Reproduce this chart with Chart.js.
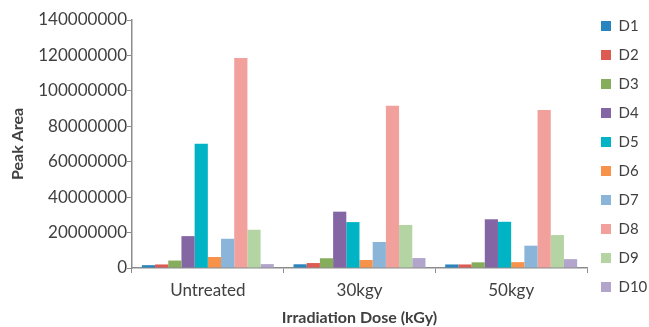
<!DOCTYPE html>
<html>
<head>
<meta charset="utf-8">
<script src="https://cdn.jsdelivr.net/npm/chart.js@4"></script>
<style>
  html, body { margin: 0; padding: 0; background: #fff; }
  #wrap { width: 649px; height: 327px; position: relative; }
</style>
</head>
<body>
<div id="wrap"><canvas id="c"></canvas></div>
<script>
// data (peak area, millions)
const doses = ['Untreated', '30kgy', '50kgy']
const series = ['D1', 'D2', 'D3', 'D4', 'D5', 'D6', 'D7', 'D8', 'D9', 'D10']
const d1 = [1.6, 2.1, 2.0]
const d2 = [2.0, 2.8, 2.0]
const d3 = [4.2, 5.5, 3.2]
const d4 = [18.0, 31.8, 27.5]
const d5 = [70.2, 25.9, 26.1]
const d6 = [6.2, 4.5, 3.3]
const d7 = [16.5, 14.7, 12.6]
const d8 = [118.6, 91.6, 89.2]
const d9 = [21.6, 24.3, 18.6]
const d10 = [2.2, 5.6, 5.0]
const yTicks = [0, 20000000, 40000000, 60000000, 80000000, 100000000, 120000000, 140000000]
const colors = ['#2a85bf', '#dc5b53', '#86ad5c', '#8366a3', '#00b4c5', '#f7924a', '#8ab5d8', '#f1a09b', '#b4d4a4', '#b2a5cb']

const values = [d1, d2, d3, d4, d5, d6, d7, d8, d9, d10]
const txt = '#404040'
const axisCol = '#8c8c8c'
const font = 'Lato, "Open Sans", sans-serif'

new Chart(document.getElementById('c'), {
  type: 'bar',
  data: {
    labels: doses,
    datasets: series.map((s, i) => ({
      label: s,
      data: values[i].map(v => v * 1000000),
      backgroundColor: colors[i],
      borderWidth: 0,
      categoryPercentage: 0.87,
      barPercentage: 1,
    })),
  },
  options: {
    responsive: true,
    maintainAspectRatio: false,
    animation: false,
    layout: { padding: { top: 4.5, right: 0, bottom: 0, left: 0 } },
    plugins: {
      tooltip: { enabled: false },
      title: { display: true, text: '', font: { size: 10, lineHeight: 1 }, padding: { top: 0, bottom: 5.5 } },
      legend: {
        position: 'right',
        align: 'start',
        maxWidth: 62,
        labels: { boxWidth: 10, boxHeight: 10, padding: 14, color: txt, font: { family: font, size: 15 } },
      },
    },
    scales: {
      x: {
        grid: { display: true, drawOnChartArea: false, drawTicks: true, tickLength: 5, color: axisCol, offset: true },
        border: { color: axisCol, width: 1.5 },
        ticks: { color: txt, font: { family: font, size: 17 }, padding: 7 },
        title: { display: true, text: 'Irradiation Dose (kGy)', color: txt, font: { family: font, size: 16, weight: 'bold' }, padding: { top: 0, bottom: 0 } },
        afterFit: s => { s.height = 59 },
      },
      y: {
        min: 0,
        max: 140000000,
        afterBuildTicks: s => { s.ticks = yTicks.map(v => ({ value: v })) },
        grid: { display: true, drawOnChartArea: false, drawTicks: true, tickLength: 5, color: axisCol },
        border: { color: axisCol, width: 1.5 },
        ticks: { color: txt, font: { family: font, size: 17 }, padding: 0, callback: v => String(v) },
        title: { display: true, text: 'Peak Area', color: txt, font: { family: font, size: 16, weight: 'bold' }, padding: { top: 8, bottom: 0 } },
        afterFit: s => { s.width = 132 },
      },
    },
  },
})
</script>
</body>
</html>
